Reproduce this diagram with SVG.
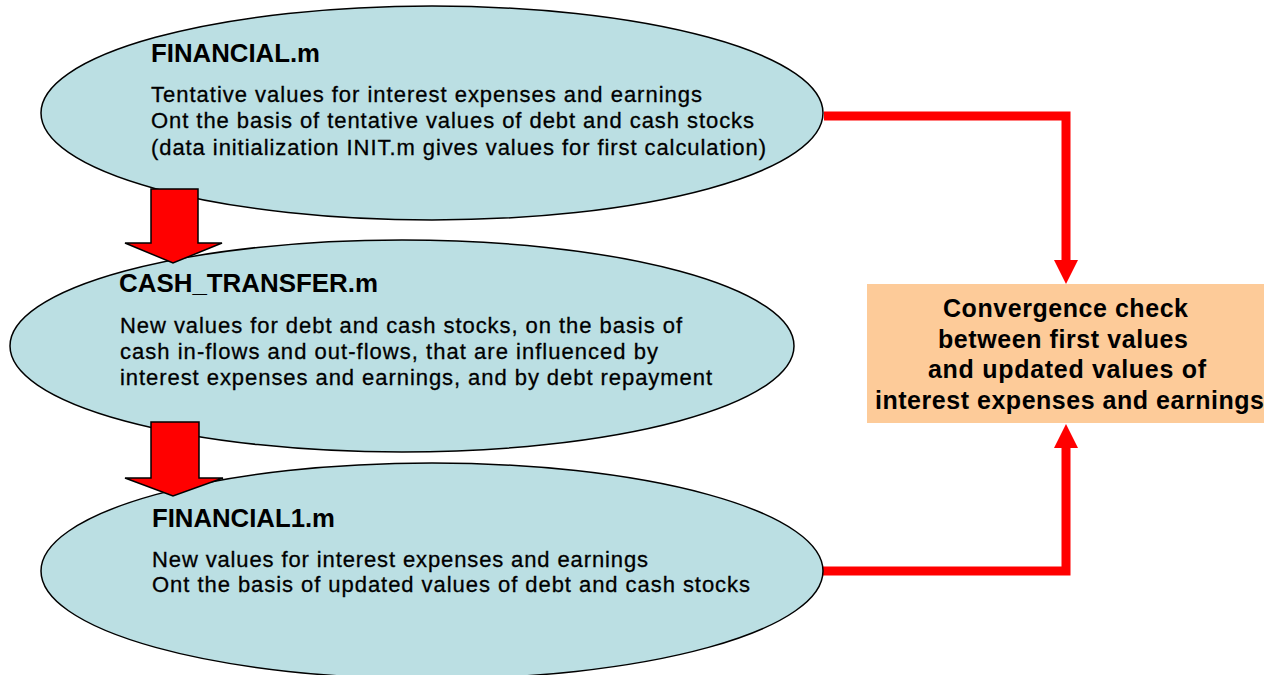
<svg xmlns="http://www.w3.org/2000/svg" width="1276" height="675" viewBox="0 0 1276 675">
<style>
.node ellipse{fill:#bbdfe3;stroke:#000;stroke-width:1.5}
.t{font-family:"Liberation Sans",Arial,sans-serif;fill:#000}
.title{font-size:25px;font-weight:bold}
.body{font-size:22px;stroke:#000;stroke-width:0.3}
.box{font-size:25px;font-weight:bold}
.conn{fill:none;stroke:#ff0000;stroke-width:9}
.ah{fill:#ff0000}
.blk{fill:#ff0000;stroke:#000;stroke-width:1.5;stroke-linejoin:miter}
</style>
<rect width="1276" height="675" fill="#fff"/>
<g id="connectors">
<path class="conn" d="M824 116 H1066 V262"/>
<polygon class="ah" points="1054,260 1078,260 1066,284"/>
<path class="conn" d="M823 571 H1066 V446"/>
<polygon class="ah" points="1054,448 1078,448 1066,424"/>
</g>
<g id="financial" class="node">
<ellipse cx="432" cy="113" rx="391" ry="107"/>
<text class="t title" x="151" y="62" textLength="169" lengthAdjust="spacingAndGlyphs">FINANCIAL.m</text>
<text class="t body" x="151" y="102" textLength="551">Tentative values for interest expenses and earnings</text>
<text class="t body" x="151" y="128" textLength="603">Ont the basis of tentative values of debt and cash stocks</text>
<text class="t body" x="151" y="155" textLength="615">(data initialization INIT.m gives values for first calculation)</text>
</g>
<g id="cash_transfer" class="node">
<ellipse cx="402" cy="346" rx="392" ry="106"/>
<text class="t title" x="119" y="292" textLength="259" lengthAdjust="spacingAndGlyphs">CASH_TRANSFER.m</text>
<text class="t body" x="120" y="333" textLength="562">New values for debt and cash stocks, on the basis of</text>
<text class="t body" x="120" y="359" textLength="538">cash in-flows and out-flows, that are influenced by</text>
<text class="t body" x="120" y="385" textLength="592">interest expenses and earnings, and by debt repayment</text>
</g>
<g id="financial1" class="node">
<ellipse cx="432" cy="571" rx="391" ry="108"/>
<text class="t title" x="152" y="527" textLength="183" lengthAdjust="spacingAndGlyphs">FINANCIAL1.m</text>
<text class="t body" x="152" y="567" textLength="496">New values for interest expenses and earnings</text>
<text class="t body" x="152" y="592" textLength="598">Ont the basis of updated values of debt and cash stocks</text>
</g>
<g id="arrow1">
<polygon class="blk" points="151,189 198,189 198,243 222,243 173,263 125,243 151,243"/>
</g>
<g id="arrow2">
<polygon class="blk" points="151,422 199,422 199,478 223,478 173,496 125,478 151,478"/>
</g>
<g id="convergence">
<rect x="867" y="284" width="397" height="139" fill="#fdcb99"/>
<text class="t box" x="943" y="317" textLength="245">Convergence check</text>
<text class="t box" x="938" y="348" textLength="250">between first values</text>
<text class="t box" x="928" y="378" textLength="278">and updated values of</text>
<text class="t box" x="875" y="409" textLength="389">interest expenses and earnings</text>
</g>
</svg>
